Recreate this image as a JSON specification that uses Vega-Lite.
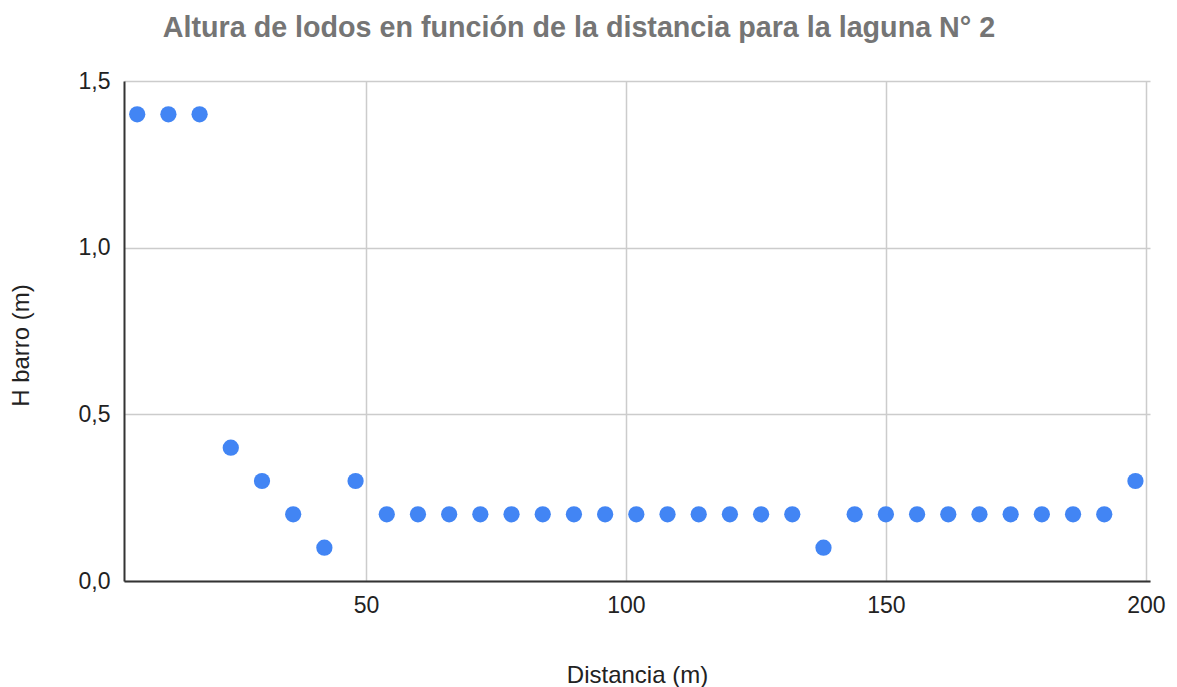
{
  "$schema": "https://vega.github.io/schema/vega-lite/v6.json",
  "autosize": "none",
  "width": 1026,
  "height": 500,
  "padding": {"left": 124, "top": 81, "right": 27, "bottom": 106},
  "background": "white",
  "title": {
    "text": "Altura de lodos en función de la distancia para la laguna N° 2",
    "anchor": "middle",
    "dx": -58,
    "fontSize": 28.7,
    "fontWeight": "bold",
    "font": "Liberation Sans",
    "color": "#757575",
    "offset": 27
  },
  "data": {
    "values": [
      {"distancia": 6, "h": 1.4},
      {"distancia": 12, "h": 1.4},
      {"distancia": 18, "h": 1.4},
      {"distancia": 24, "h": 0.4},
      {"distancia": 30, "h": 0.3},
      {"distancia": 36, "h": 0.2},
      {"distancia": 42, "h": 0.1},
      {"distancia": 48, "h": 0.3},
      {"distancia": 54, "h": 0.2},
      {"distancia": 60, "h": 0.2},
      {"distancia": 66, "h": 0.2},
      {"distancia": 72, "h": 0.2},
      {"distancia": 78, "h": 0.2},
      {"distancia": 84, "h": 0.2},
      {"distancia": 90, "h": 0.2},
      {"distancia": 96, "h": 0.2},
      {"distancia": 102, "h": 0.2},
      {"distancia": 108, "h": 0.2},
      {"distancia": 114, "h": 0.2},
      {"distancia": 120, "h": 0.2},
      {"distancia": 126, "h": 0.2},
      {"distancia": 132, "h": 0.2},
      {"distancia": 138, "h": 0.1},
      {"distancia": 144, "h": 0.2},
      {"distancia": 150, "h": 0.2},
      {"distancia": 156, "h": 0.2},
      {"distancia": 162, "h": 0.2},
      {"distancia": 168, "h": 0.2},
      {"distancia": 174, "h": 0.2},
      {"distancia": 180, "h": 0.2},
      {"distancia": 186, "h": 0.2},
      {"distancia": 192, "h": 0.2},
      {"distancia": 198, "h": 0.3}
    ]
  },
  "mark": {"type": "point", "filled": true, "shape": "circle", "size": 264, "color": "#4285F4", "opacity": 1},
  "encoding": {
    "x": {
      "field": "distancia",
      "type": "quantitative",
      "title": "Distancia (m)",
      "scale": {"domain": [3.46, 200.8], "nice": false, "zero": false},
      "axis": {
        "values": [50, 100, 150, 200],
        "grid": true,
        "ticks": false,
        "labelPadding": 13,
        "titleBaseline": "alphabetic",
        "titleY": 101
      }
    },
    "y": {
      "field": "h",
      "type": "quantitative",
      "title": "H barro (m)",
      "scale": {"domain": [0, 1.5], "nice": false},
      "axis": {
        "values": [0, 0.5, 1, 1.5],
        "labelExpr": "replace(format(datum.value, '.1f'), '.', ',')",
        "grid": true,
        "ticks": false,
        "labelPadding": 14,
        "titleBaseline": "alphabetic",
        "titleX": -96,
        "titleY": 264
      }
    }
  },
  "config": {
    "view": {"stroke": null},
    "font": "Liberation Sans",
    "axis": {
      "labelFont": "Liberation Sans",
      "titleFont": "Liberation Sans",
      "labelFontSize": 23,
      "titleFontSize": 24,
      "labelColor": "#222222",
      "titleColor": "#222222",
      "titleFontWeight": "normal",
      "gridColor": "#cccccc",
      "gridWidth": 1.5,
      "gridOpacity": 1,
      "domainColor": "#333333",
      "domainWidth": 2
    }
  }
}
